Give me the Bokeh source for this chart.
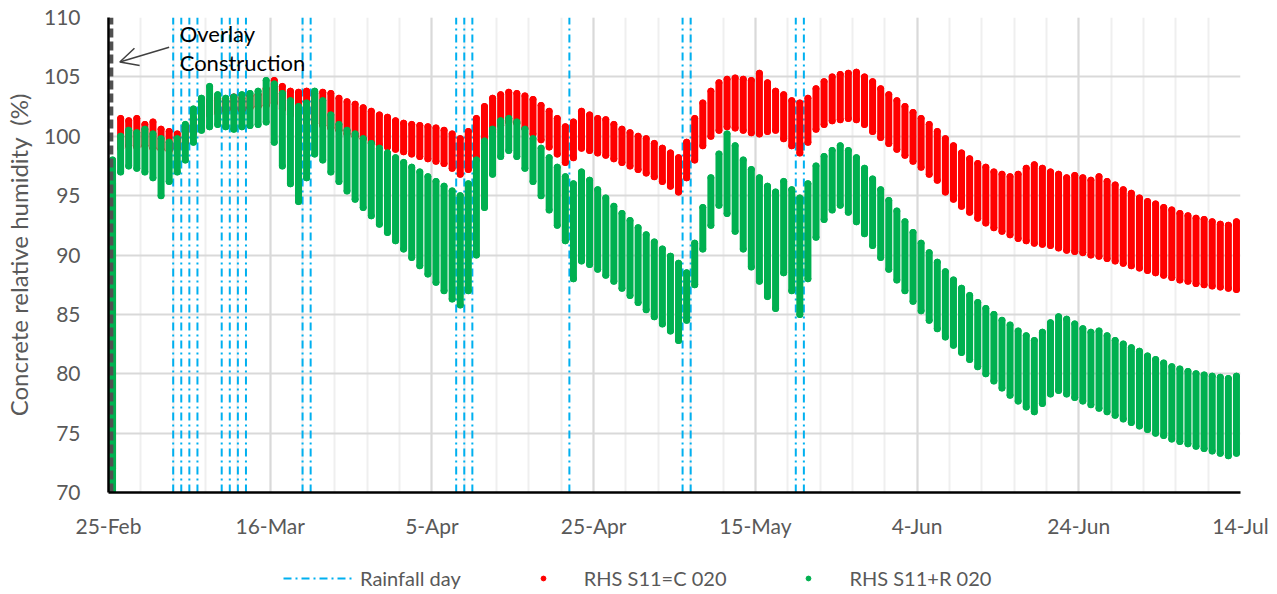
from bokeh.plotting import figure
from bokeh.layouts import column
from bokeh.models import (FixedTicker, Range1d, Legend, LegendItem, Arrow, OpenHead, Label)
from bokeh.embed import file_html
from bokeh.resources import INLINE

# ---------------- data ----------------
x_tick_days = [0, 20, 40, 60, 80, 100, 120, 140]
x_tick_labels = ["25-Feb", "16-Mar", "5-Apr", "25-Apr", "15-May", "4-Jun", "24-Jun", "14-Jul"]
y_ticks = [70, 75, 80, 85, 90, 95, 100, 105, 110]

# days after 25-Feb-2020 on which it rained
rain_days = [8, 9, 10, 11, 14, 15, 16, 17, 24, 25, 43, 44, 45, 57, 71, 72, 85, 86]
overlay_day = 0.35

days = list(range(141))
red_max = [96, 101.5, 101.3, 101.5, 101.0, 101.2, 100.6, 100.4, 100.2, 100.8,
           101.5, 102.5, 103.0, 103.2, 103.0, 103.3, 103.2, 103.4, 103.5, 104.0,
           104.7, 104.2, 103.8, 103.7, 103.8, 103.6, 103.7, 103.6, 103.2, 102.9,
           102.7, 102.4, 102.1, 101.8, 101.6, 101.3, 101.1, 101.0, 100.9, 100.8,
           100.7, 100.5, 100.2, 99.8, 100.4, 101.5, 102.5, 103.2, 103.5, 103.7,
           103.6, 103.4, 103.1, 102.6, 102.1, 101.5, 100.8, 101.2, 102.1, 101.8,
           101.5, 101.4, 101.0, 100.6, 100.3, 100.0, 99.8, 99.4, 99.0, 98.6,
           98.2, 99.5, 101.5, 102.8, 103.8, 104.5, 104.8, 104.9, 104.8, 104.7,
           105.3, 104.5, 103.8, 103.5, 103.0, 102.8, 103.2, 104.0, 104.6, 105.0,
           105.2, 105.3, 105.4, 105.0, 104.6, 104.0, 103.5, 103.0, 102.5, 102.0,
           101.5, 101.0, 100.4, 99.8, 99.2, 98.6, 98.1, 97.7, 97.4, 97.0,
           96.8, 96.6, 96.8, 97.3, 97.6, 97.3, 97.0, 96.8, 96.5, 96.7,
           96.5, 96.3, 96.6, 96.2, 95.9, 95.5, 95.2, 94.8, 94.5, 94.3,
           94.0, 93.8, 93.5, 93.3, 93.1, 93.0, 92.8, 92.6, 92.5, 92.8,
           92.7]
red_min = [72, 99.0, 99.2, 99.1, 99.2, 99.0, 98.9, 98.8, 99.0, 99.5,
           100.3, 101.3, 101.8, 102.0, 102.2, 102.3, 102.2, 102.4, 102.5, 102.6,
           102.8, 102.3, 101.8, 101.4, 101.2, 101.1, 100.9, 100.7, 100.5, 100.2,
           100.0, 99.8, 99.5, 99.3, 99.1, 98.9, 98.7, 98.5, 98.3, 98.1,
           97.9, 97.7, 97.3, 96.8, 97.2, 98.3, 99.4, 100.3, 100.9, 101.2,
           101.1, 100.7, 100.2, 99.7, 99.1, 98.5, 97.8, 98.2, 99.0, 98.8,
           98.6, 98.4, 98.1, 97.8, 97.5, 97.2, 96.9, 96.6, 96.2, 95.8,
           95.3, 96.5, 98.0, 99.2, 100.0, 100.5, 100.8, 100.7, 100.5, 100.3,
           100.2, 100.4, 100.5, 99.8, 99.2, 98.6, 99.5, 100.6, 101.0, 101.3,
           101.4, 101.5, 101.4, 101.0, 100.4, 99.9, 99.4, 98.9, 98.4, 97.9,
           97.4, 96.8, 96.3, 95.3, 94.7, 94.1, 93.6, 93.1, 92.7, 92.3,
           92.0, 91.7, 91.4, 91.2, 91.0, 90.9, 90.8, 90.6, 90.4, 90.3,
           90.2, 90.0, 89.9, 89.7, 89.5, 89.3, 89.1, 88.9, 88.7, 88.5,
           88.3, 88.1, 87.9, 87.8, 87.6, 87.5, 87.4, 87.3, 87.2, 87.1,
           90.0]
green_max = [98, 100.0, 100.5, 100.3, 100.6, 100.2, 99.8, 99.5, 99.8, 101.0,
             102.3, 103.2, 104.2, 103.5, 103.2, 103.3, 103.5, 103.6, 103.8, 104.7,
             104.4, 103.6, 103.0, 102.5, 102.8, 103.8, 103.0, 101.8, 101.0, 100.5,
             100.2, 99.8, 99.4, 99.0, 98.6, 98.2, 97.8, 97.4, 97.0, 96.6,
             96.2, 95.8, 95.4, 95.0, 96.0, 98.0, 99.6, 100.6, 101.3, 101.5,
             101.2, 100.6, 99.8, 99.0, 98.2, 97.4, 96.6, 96.0, 97.0, 96.3,
             95.5, 94.8, 94.1, 93.5, 92.9, 92.3, 91.7, 91.1, 90.5, 89.9,
             89.3, 88.5, 91.0, 94.0, 96.5, 98.5, 100.2, 99.2, 98.0, 97.2,
             96.5, 95.8, 95.3, 96.2, 95.5, 94.8, 96.0, 97.5, 98.3, 98.8,
             99.2, 98.8, 98.2, 97.3, 96.4, 95.5, 94.6, 93.7, 92.8, 91.9,
             91.0, 90.2, 89.4, 88.6, 87.9, 87.2, 86.6, 86.0, 85.5, 85.0,
             84.5, 84.1, 83.6, 83.2, 82.8, 83.5, 84.3, 84.8, 84.6, 84.2,
             83.8, 83.5, 83.6, 83.2, 82.8, 82.5, 82.2, 81.9, 81.5, 81.2,
             80.9, 80.6, 80.4, 80.2, 80.0, 79.9, 79.8, 79.7, 79.6, 79.8,
             80.5]
green_min = [70, 97.0, 97.5, 97.3, 97.0, 96.5, 95.0, 96.2, 97.0, 98.0,
             99.5, 100.5, 100.8, 101.0, 100.8, 100.6, 100.8, 100.9, 101.0, 101.2,
             99.5, 97.5, 96.0, 94.5, 96.5, 98.5, 98.0, 97.0, 96.2, 95.4,
             94.7, 94.0, 93.3, 92.6, 91.9, 91.2, 90.5, 89.8, 89.1, 88.4,
             87.7, 87.0, 86.3, 85.8, 87.0, 90.0, 94.0, 96.8, 98.3, 98.8,
             98.3, 97.3, 96.2, 95.0, 93.8, 92.5, 91.2, 88.0, 89.5, 89.2,
             88.8, 88.3, 87.8, 87.2, 86.6, 86.0, 85.4, 84.8, 84.2, 83.6,
             82.8, 84.5, 87.5, 90.5, 92.5, 94.2, 93.5, 92.0, 90.5, 89.0,
             87.8, 86.5, 85.5, 88.5, 87.0, 85.0, 88.0, 91.5, 93.0, 93.8,
             94.2, 93.6, 92.8, 91.8, 90.8, 89.8, 88.8, 87.9, 87.0, 86.1,
             85.3, 84.5, 83.8, 83.1, 82.4, 81.8, 81.2, 80.6, 80.0, 79.4,
             78.8, 78.2, 77.7, 77.2, 76.8, 77.5, 78.3, 78.6, 78.3, 78.0,
             77.7, 77.4, 77.1, 76.8, 76.5, 76.2, 75.9, 75.6, 75.3, 75.0,
             74.8, 74.5, 74.3, 74.1, 73.9, 73.7, 73.5, 73.3, 73.1, 73.3,
             77.0]

# ---------------- styling constants ----------------
FONT = "Lato"
GREY = "#595959"
RED = "#FF0000"
GREEN = "#00B050"
BLUE = "#00B0F0"
RAIN_STYLE = dict(line_color=BLUE, line_width=2, line_dash="8 4 2 4")
OVERLAY_STYLE = dict(line_color="#505050", line_width=4, line_dash="9 4")

p = figure(width=1270, height=540, output_backend="svg", toolbar_location=None,
           x_range=Range1d(0, 140), y_range=Range1d(70, 110),
           min_border_left=105, min_border_right=30, min_border_top=17, min_border_bottom=44)
p.outline_line_color = None
p.background_fill_color = "white"
p.border_fill_color = "white"

# axes
p.xaxis.ticker = FixedTicker(ticks=x_tick_days, minor_ticks=list(range(0, 141, 4)))
p.xaxis.major_label_overrides = {d: lab for d, lab in zip(x_tick_days, x_tick_labels)}
p.yaxis.ticker = FixedTicker(ticks=y_ticks)
for ax in (p.xaxis[0], p.yaxis[0]):
    ax.axis_line_color = "black"
    ax.axis_line_width = 2.5
    ax.major_tick_line_color = None
    ax.minor_tick_line_color = None
    ax.major_label_text_font = FONT
    ax.major_label_text_font_size = "21px"
    ax.major_label_text_color = GREY
p.xaxis.major_label_standoff = 14
p.yaxis.major_label_standoff = 22
p.yaxis.axis_label = "Concrete relative humidity\u00a0 (%)"
p.yaxis.axis_label_text_font = FONT
p.yaxis.axis_label_text_font_size = "24px"
p.yaxis.axis_label_text_font_style = "normal"
p.yaxis.axis_label_text_color = GREY
p.yaxis.axis_label_standoff = 8

p.xgrid.grid_line_color = "#D9D9D9"
p.xgrid.grid_line_width = 2
p.xgrid.minor_grid_line_color = "#EFEFEF"
p.xgrid.minor_grid_line_width = 2
p.ygrid.grid_line_color = "#D9D9D9"
p.ygrid.grid_line_width = 2

# rainfall lines
p.segment(x0=rain_days, x1=rain_days, y0=[70] * len(rain_days), y1=[110] * len(rain_days), **RAIN_STYLE)

# series: each day's stroke spans the daily minimum to maximum
xc = [d + 0.5 for d in days]
p.segment(x0=xc, x1=xc, y0=red_min, y1=red_max, line_color=RED, line_width=7, line_cap="round")
p.scatter(x=xc + xc, y=red_max + red_min, size=6, color=RED)
p.segment(x0=xc, x1=xc, y0=green_min, y1=green_max, line_color=GREEN, line_width=7, line_cap="round")
p.scatter(x=xc + xc, y=green_max + green_min, size=6, color=GREEN)

# overlay construction line
p.segment(x0=[overlay_day], x1=[overlay_day], y0=[70], y1=[110], **OVERLAY_STYLE)

# annotation
p.add_layout(Label(x=8.8, y=108.66, text="Overlay", text_font=FONT, text_font_size="22px",
                   text_color="black", text_baseline="middle"))
p.add_layout(Label(x=8.8, y=106.24, text="Construction", text_font=FONT, text_font_size="22px",
                   text_color="black", text_baseline="middle"))
p.add_layout(Arrow(x_start=7.5, y_start=107.5, x_end=1.4, y_end=106.25, line_color="#404040",
                   line_width=1.5, end=OpenHead(size=18, line_color="#404040", line_width=1.5)))

# ---------------- legend strip below the chart ----------------
# the key glyphs use the series' first values, which fall outside this strip's ranges
lg = figure(width=1270, height=52, output_backend="svg", toolbar_location=None,
            x_range=Range1d(200, 201), y_range=Range1d(200, 201),
            x_axis_location=None, y_axis_location=None,
            min_border_left=0, min_border_right=0, min_border_top=0, min_border_bottom=0)
lg.outline_line_color = None
lg.grid.visible = False
rain_key = lg.segment(x0=rain_days[:1], x1=rain_days[:1], y0=[70], y1=[110], **RAIN_STYLE)
red_key = lg.scatter(x=xc[:1], y=red_max[:1], size=6, color=RED)
green_key = lg.scatter(x=xc[:1], y=green_max[:1], size=6, color=GREEN)
legend = Legend(items=[LegendItem(label="Rainfall day", renderers=[rain_key]),
                       LegendItem(label="RHS S11=C 020", renderers=[red_key]),
                       LegendItem(label="RHS S11+R 020", renderers=[green_key])],
                orientation="horizontal", location=(175, 2), margin=0,
                glyph_width=72, glyph_height=12, spacing=46, label_standoff=5, padding=2,
                label_text_font=FONT, label_text_font_size="20px", label_text_color=GREY,
                border_line_color=None, background_fill_alpha=0)
lg.add_layout(legend, "center")

open("out.html", "w").write(file_html(column(p, lg, spacing=0), INLINE))
